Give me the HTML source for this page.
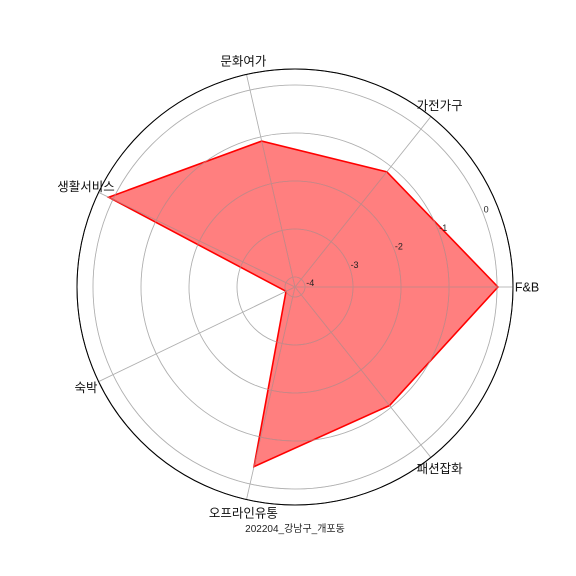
<!DOCTYPE html>
<html><head><meta charset="utf-8"><style>
html,body{margin:0;padding:0;background:#fff}
svg{display:block;font-family:"Liberation Sans","Noto Sans CJK KR",sans-serif}
</style></head><body>
<svg id="chart" width="576" height="576" viewBox="0 0 576 576">
<rect width="576" height="576" fill="#fff"/>
<g id="grid"></g><g id="series"></g><g id="labels"></g>
<text x="295" y="532" text-anchor="middle" font-size="10" fill="#222">202204_강남구_개포동</text>
</svg>
<script>
const categories = ["F&B","가전가구","문화여가","생활서비스","숙박","오프라인유통","패션잡화"];
const values = [0.02,-1.14,-1.09,0.1,-4.0,-0.37,-1.05];
const ticks = [-4,-3,-2,-1,0];
const rMin = -4.208, rMax = 0.333;
const cx = 295, cy = 287, R = 218;
const NS = "http://www.w3.org/2000/svg";
function rad(v){return (v - rMin)/(rMax - rMin)*R;}
function ang(i){return i*2*Math.PI/categories.length;}
function pt(i,v){const r=rad(v),a=ang(i);return [cx+r*Math.cos(a), cy-r*Math.sin(a)];}
function mk(tag,attrs,parent){const e=document.createElementNS(NS,tag);for(const k in attrs)e.setAttribute(k,attrs[k]);parent.appendChild(e);return e;}
const grid=document.getElementById('grid'), ser=document.getElementById('series'), lab=document.getElementById('labels');
ticks.forEach(t=>{
  const c=mk('circle',{cx:cx,cy:cy,r:rad(t),fill:'none',stroke:'#b0b0b0','stroke-width':0.8},grid);
  
  
  const a=22.5*Math.PI/180, r=rad(t);
  const tx=mk('text',{x:cx+r*Math.cos(a)+2,y:cy-r*Math.sin(a)+3,'font-size':9,fill:'#222'},lab);
  tx.textContent=t;
  
  
});
categories.forEach((c,i)=>{
  const a=ang(i);
  const l=mk('line',{x1:cx,y1:cy,x2:cx+R*Math.cos(a),y2:cy-R*Math.sin(a),stroke:'#b0b0b0','stroke-width':0.8},grid);
  
  
  const lr=232, x=cx+lr*Math.cos(a), y=cy-lr*Math.sin(a);
  const t=mk('text',{x:x,y:y+4.5,'font-size':12.5,fill:'#111','text-anchor':'middle'},lab);
  t.textContent=c;
  
  
});
const outer=mk('circle',{cx:cx,cy:cy,r:R,fill:'none',stroke:'#000','stroke-width':1},grid);


const pts=values.map((v,i)=>pt(i,v).join(',')).join(' ');
const poly=mk('polygon',{points:pts,fill:'rgba(255,0,0,0.5)',stroke:'#ff0000','stroke-width':1.6,'stroke-linejoin':'miter'},ser);


const gl=grid.cloneNode(true); gl.setAttribute('opacity','0.6'); ser.parentNode.insertBefore(gl, lab);


</script>
</body></html>
